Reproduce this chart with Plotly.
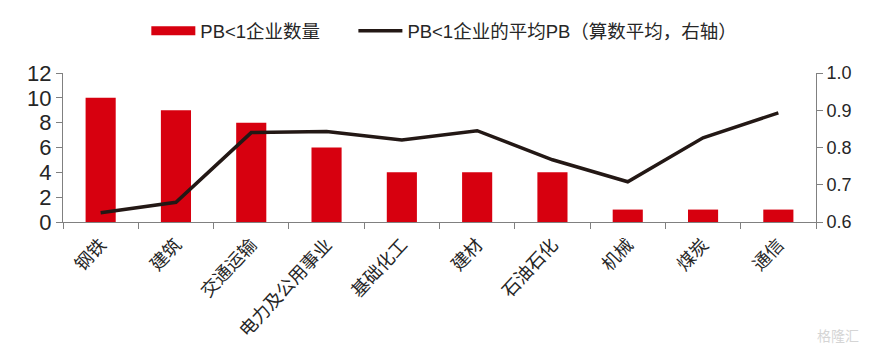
import plotly.graph_objects as go

categories = ["钢铁", "建筑", "交通运输", "电力及公用事业", "基础化工", "建材", "石油石化", "机械", "煤炭", "通信"]
company_count = [10, 9, 8, 6, 4, 4, 4, 1, 1, 1]
average_pb = [0.625, 0.653, 0.84, 0.843, 0.82, 0.845, 0.767, 0.708, 0.826, 0.893]
left_ticks = [0, 2, 4, 6, 8, 10, 12]
right_ticks = [0.6, 0.7, 0.8, 0.9, 1.0]
right_labels = ["0.6", "0.7", "0.8", "0.9", "1.0"]
name_bar = "PB<1企业数量"
name_line = "PB<1企业的平均PB（算数平均，右轴）"

RED = "#D7000F"
DARK = "#231815"
AXIS = "#808080"
TXT = "#262626"
FONT = "Liberation Sans, Noto Sans CJK SC, sans-serif"

fig = go.Figure()
fig.add_trace(go.Bar(x=categories, y=company_count, marker=dict(color=RED, line_width=0),
                     name=name_bar, showlegend=False, yaxis="y"))
# legend key with the wide flat swatch of the reference
fig.add_trace(go.Scatter(x=[None], y=[None], mode="lines", name=name_bar,
                         line=dict(color=RED, width=9), yaxis="y", legend="legend"))
fig.add_trace(go.Scatter(x=categories, y=average_pb, mode="lines", name=name_line,
                         line=dict(color=DARK, width=3.5), yaxis="y2", legend="legend2"))

legend_common = dict(orientation="h", xref="container", yref="container", xanchor="left",
                     y=0.934, yanchor="middle", itemwidth=44, itemclick=False,
                     font=dict(size=18.5), bgcolor="rgba(0,0,0,0)")

fig.update_layout(
    width=870, height=351, autosize=False,
    margin=dict(l=55, r=62, t=65, b=136.5, autoexpand=False),
    paper_bgcolor="white", plot_bgcolor="white",
    font=dict(family=FONT, color=TXT),
    bargap=0.6,
    legend=dict(x=0.159, **legend_common),
    legend2=dict(x=0.397, **legend_common),
    xaxis=dict(type="category", categoryorder="array", categoryarray=categories, automargin=False,
               tickson="boundaries", ticks="outside", ticklen=6, tickcolor=AXIS,
               showline=True, linecolor=AXIS, linewidth=1, showgrid=False,
               tickangle=-47, ticklabelstandoff=4, tickfont=dict(size=18, color=TXT)),
    yaxis=dict(range=[0, 12], tickvals=left_ticks, ticks="outside", ticklen=6, tickcolor=AXIS,
               showline=True, linecolor=AXIS, linewidth=1, showgrid=False, zeroline=False,
               automargin=False, tickfont=dict(size=22, color=TXT)),
    yaxis2=dict(range=[0.6, 1.0], tickvals=right_ticks, ticktext=right_labels, overlaying="y",
                side="right", ticks="outside", ticklen=6, tickcolor=AXIS,
                showline=True, linecolor=AXIS, linewidth=1, showgrid=False, zeroline=False,
                automargin=False, tickfont=dict(size=18, color=TXT)),
    annotations=[dict(text="格隆汇", xref="paper", yref="paper", x=1.06, y=-0.766,
                      xanchor="right", yanchor="middle", showarrow=False,
                      font=dict(size=14, color="#D5D5D5"))],
)
fig.write_html("out.html")
